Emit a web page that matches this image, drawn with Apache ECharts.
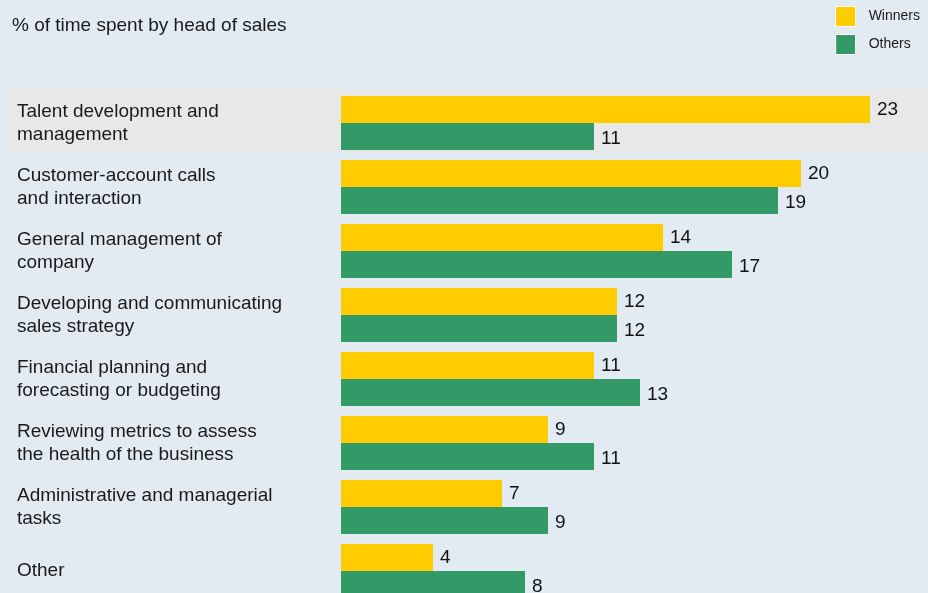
<!DOCTYPE html>
<html><head><meta charset="utf-8">
<script src="https://cdn.jsdelivr.net/npm/echarts@6/dist/echarts.min.js"></script>
<style>html,body{margin:0;padding:0;background:#E2EAF2}#c{width:928px;height:593px}</style>
</head><body><div id="c"></div>
<script>
const categories = [
  'Talent development and\nmanagement',
  'Customer-account calls\nand interaction',
  'General management of\ncompany',
  'Developing and communicating\nsales strategy',
  'Financial planning and\nforecasting or budgeting',
  'Reviewing metrics to assess\nthe health of the business',
  'Administrative and managerial\ntasks',
  'Other'
];
const winners = [23, 20, 14, 12, 11, 9, 7, 4];
const others = [11, 19, 17, 12, 13, 11, 9, 8];
const highlight = [1, 0, 0, 0, 0, 0, 0, 0];

const chart = echarts.init(document.getElementById('c'), null, {renderer: 'canvas'});
const font = '"Liberation Sans", Arial, sans-serif';
chart.setOption({
  backgroundColor: '#E2EAF2',
  animation: false,
  textStyle: {fontFamily: font},
  title: {text: '% of time spent by head of sales', left: 7, top: 11,
    textStyle: {fontSize: 19, fontWeight: 'normal', color: '#1a1a1a', fontFamily: font}},
  legend: {orient: 'vertical', right: 3, top: 1, itemWidth: 20, itemHeight: 20, itemGap: 7,
    icon: 'rect',
    data: ['Winners', 'Others'],
    textStyle: {fontSize: 14, color: '#1a1a1a', fontFamily: font, padding: [0, 0, 0, 8]},
    itemStyle: {borderColor: '#fff', borderWidth: 1}},
  grid: [
    {left: 341, top: 91, width: 575, height: 512, outerBoundsMode: 'none', containLabel: false},
    {left: 12, top: 88, width: 916, height: 512, outerBoundsMode: 'none', containLabel: false}
  ],
  xAxis: [
    {gridIndex: 0, type: 'value', min: 0, max: 25, show: false},
    {gridIndex: 1, type: 'value', min: 0, max: 1, show: false}
  ],
  yAxis: [
    {gridIndex: 0, type: 'category', data: categories, inverse: true,
     axisLine: {show: false}, axisTick: {show: false}, splitLine: {show: false},
     axisLabel: {align: 'left', margin: 324, fontSize: 19, lineHeight: 23, color: '#1a1a1a', fontFamily: font}},
    {gridIndex: 1, type: 'category', data: categories, inverse: true, show: false}
  ],
  series: [
    {name: 'bg', type: 'bar', xAxisIndex: 1, yAxisIndex: 1, data: highlight,
     barCategoryGap: '0%', itemStyle: {color: '#E8E8E8'}, silent: true, z: 0, legendHoverLink: false},
    {name: 'Winners', type: 'bar', xAxisIndex: 0, yAxisIndex: 0, data: winners,
     barWidth: 27, barGap: '0%', itemStyle: {color: '#FFCC00'}, z: 2,
     label: {show: true, position: 'right', distance: 7, fontSize: 19, color: '#111', fontFamily: font}},
    {name: 'Others', type: 'bar', xAxisIndex: 0, yAxisIndex: 0, data: others,
     barWidth: 27, barGap: '0%', itemStyle: {color: '#339966'}, z: 2,
     label: {show: true, position: 'right', distance: 7, fontSize: 19, color: '#111', fontFamily: font, offset: [0, 2]}}
  ]
});
</script></body></html>
